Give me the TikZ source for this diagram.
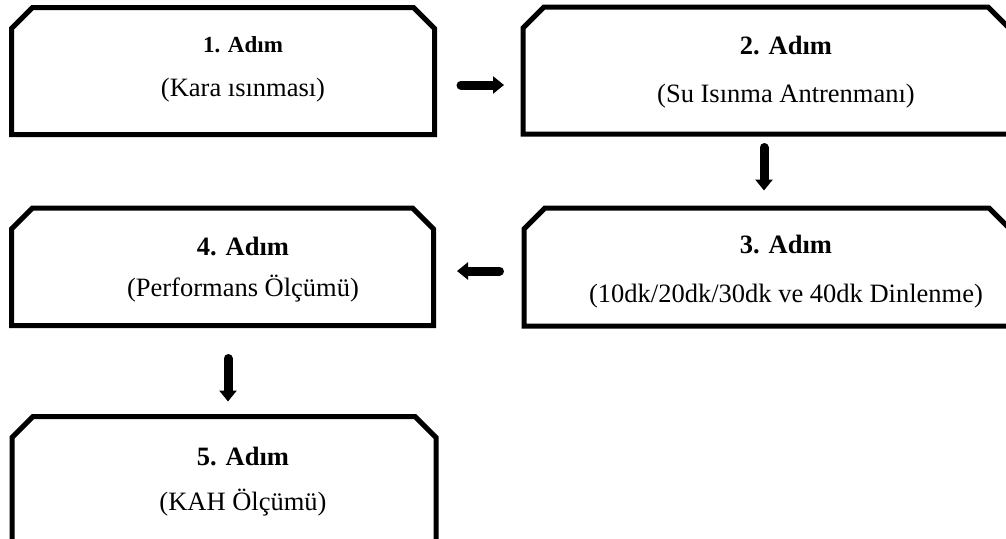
\documentclass[tikz,border=0pt]{standalone}
\usepackage{fontspec}
\setmainfont{Liberation Serif}
\usetikzlibrary{arrows.meta}

% outline of a step box: plain bottom corners, cut-off top corners
\newcommand\cutbox[2]{%
  \draw[outline] (#1.south west) -- ([yshift=-#2]#1.north west)
    -- ([xshift=#2]#1.north west) -- ([xshift=-#2]#1.north east)
    -- ([yshift=-#2]#1.north east) -- (#1.south east) -- cycle;}

\begin{document}
\begin{tikzpicture}[x=1pt,y=1pt,
  stepframe/.style={rectangle, draw=none, inner sep=0pt, outer sep=0pt},
  outline/.style={line width=5pt, line join=miter},
  steptitle/.style={anchor=base, inner sep=0pt, font=\fontsize{26.5}{30}\selectfont\bfseries},
  stepnote/.style={anchor=base, inner sep=0pt, font=\fontsize{26.5}{30}\selectfont},
  flow/.style={line width=9pt, line cap=round, -{Triangle[length=11pt,width=17pt]}}
]
\useasboundingbox (0,0) rectangle (1006,-538);
\clip (0,0) rectangle (1006,-538);

% frames
\node[stepframe, minimum width=423pt, minimum height=127pt] (s1) at (223,-71) {};
\node[stepframe, minimum width=486pt, minimum height=127pt] (s2) at (766,-70.5) {};
\node[stepframe, minimum width=486pt, minimum height=118pt] (s3) at (767,-267) {};
\node[stepframe, minimum width=422pt, minimum height=117.5pt] (s4) at (222.5,-266.75) {};
\node[stepframe, minimum width=424pt, minimum height=131.5pt] (s5) at (224,-482.25) {};

\cutbox{s1}{21}
\cutbox{s2}{21}
\cutbox{s3}{21}
\cutbox{s4}{21}
\cutbox{s5}{21}

% texts
\node[steptitle, font=\fontsize{23}{27}\selectfont\bfseries] (t1) at ([xshift=20,yshift=-45]s1.north) {1. Adım};
\node[stepnote] (n1) at ([xshift=20,yshift=-89]s1.north) {(Kara ısınması)};

\node[steptitle] (t2) at ([xshift=20,yshift=-47]s2.north) {2. Adım};
\node[stepnote] (n2) at ([xshift=20,yshift=-95]s2.north) {(Su Isınma Antrenmanı)};

\node[steptitle] (t3) at ([xshift=19,yshift=-45]s3.north) {3. Adım};
\node[stepnote] (n3) at ([xshift=19,yshift=-94]s3.north) {(10dk/20dk/30dk ve 40dk Dinlenme)};

\node[steptitle] (t4) at ([xshift=20.5,yshift=-47]s4.north) {4. Adım};
\node[stepnote] (n4) at ([xshift=20.5,yshift=-88]s4.north) {(Performans Ölçümü)};

\node[steptitle] (t5) at ([xshift=19,yshift=-48.5]s5.north) {5. Adım};
\node[stepnote] (n5) at ([xshift=19,yshift=-93.5]s5.north) {(KAH Ölçümü)};

% connectors
\draw[flow] ([xshift=26.5,yshift=-14]s1.east) -- ([xshift=-19,yshift=-14.5]s2.west);
\draw[flow] ([xshift=-2,yshift=-13.5]s2.south) -- ([xshift=-3,yshift=17.5]s3.north);
\draw[flow] ([xshift=-24.5,yshift=-4]s3.west) -- ([xshift=23.5,yshift=-4.25]s4.east);
\draw[flow] ([xshift=5.5,yshift=-33]s4.south) -- ([xshift=4,yshift=15]s5.north);
\end{tikzpicture}
\end{document}
